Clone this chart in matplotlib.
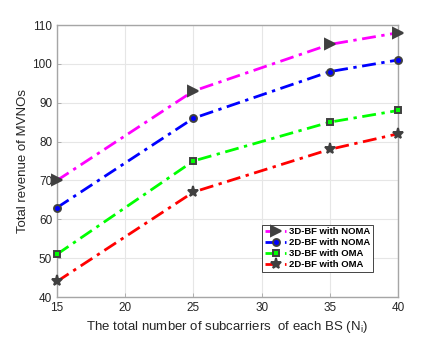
import numpy as np
from matplotlib import pyplot as plt

plt.rcParams['font.family'] = ['Liberation Sans', 'DejaVu Sans']

# data
subcarriers = [15, 25, 35, 40]
bf3d_noma = [70, 93, 105, 108]
bf2d_noma = [63, 86, 98, 101]
bf3d_oma = [51, 75, 85, 88]
bf2d_oma = [44, 67, 78, 82]

labels = ['3D-BF with NOMA', '2D-BF with NOMA', '3D-BF with OMA', '2D-BF with OMA']
colors = ['#ff00ff', '#0000ff', '#00ff00', '#ff0000']
markers = ['>', 'o', 's', '*']
msizes = [7, 5, 5, 8]
mface = ['#404040', '#0000ff', '#00ff00', '#404040']

fig = plt.figure(figsize=(4.4, 3.43), dpi=100)
ax = fig.add_axes([57/440, 1-297/343, (398-57)/440, (297-25)/343])

series = [bf3d_noma, bf2d_noma, bf3d_oma, bf2d_oma]
for vals, lab, c, m, ms, mf in zip(series, labels, colors, markers, msizes, mface):
	ax.plot(subcarriers, vals, linestyle=(0, (5, 2, 1.2, 2)), color=c, linewidth=2,
		marker=m, markersize=ms, markeredgecolor='#404040', markerfacecolor=mf,
		markeredgewidth=1.4, label=lab, clip_on=False, zorder=3)

ax.set_xlim(15, 40)
ax.set_ylim(40, 110)
ax.set_xticks([15, 20, 25, 30, 35, 40])
ax.set_yticks(np.arange(40, 111, 10))
ax.grid(True, color='#e6e6e6', linewidth=0.8)
ax.set_axisbelow(True)
ax.tick_params(direction='in', labelsize=8.5, labelcolor='#262626', length=3, width=0.6, color='#a6a6a6')
for s in ax.spines.values():
	s.set_color('#a6a6a6')
	s.set_linewidth(1.0)

ax.set_xlabel('The total number of subcarriers  of each BS (N$_\\mathregular{i}$)', fontsize=9.5, color='#262626', labelpad=4)
ax.set_ylabel('Total revenue of MVNOs', fontsize=9.5, color='#262626', labelpad=2)

leg = ax.legend(loc='lower right', bbox_to_anchor=(373/440, 1-272/343),
	bbox_transform=fig.transFigure, prop={'weight': 'bold', 'size': 6.8},
	handlelength=2.2, handletextpad=0.3, labelspacing=0.2, borderpad=0.3,
	fancybox=False, framealpha=1, edgecolor='#262626', borderaxespad=0)
leg.get_frame().set_linewidth(0.6)

fig.savefig('out.png', dpi=100)
